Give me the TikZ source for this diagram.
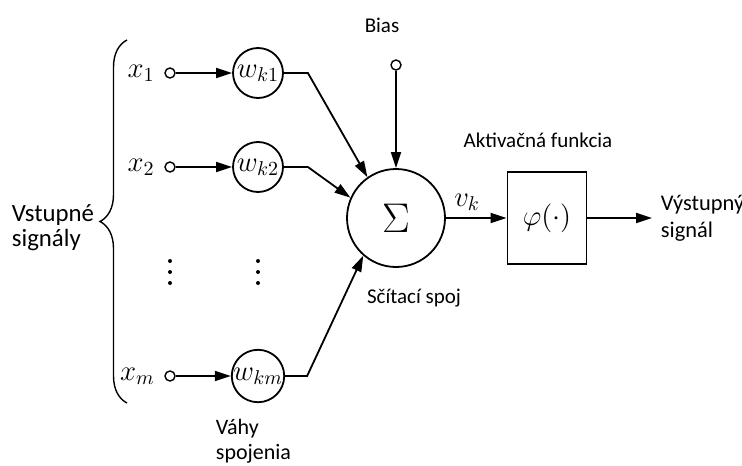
\documentclass[tikz,border=0pt]{standalone}
\usepackage{amsmath}
\usepackage{fontspec}
\setmainfont{Carlito}
\usepackage{tikz}
\usetikzlibrary{arrows.meta, decorations.pathreplacing}

\begin{document}
\begin{tikzpicture}[x=0.5pt, y=-0.5pt, line width=0.9pt,
		every node/.style={font=\fontsize{10.5}{12.8}\selectfont},
		pin/.style={draw, circle, minimum size=5pt, inner sep=0pt, line width=0.7pt},
		weight/.style={draw, circle, minimum size=25pt, inner sep=0pt, font=\Large},
		sig/.style={-{Triangle[length=8pt, width=5pt]}},
		mathlbl/.style={font=\Large},
		sidelbl/.style={anchor=west, align=left, inner sep=0pt}]
		\useasboundingbox (0, 0) rectangle (742, 465);

		% inputs x_j and their weights
		\node[pin] (x1) at (170, 73) {};
		\node[pin] (x2) at (170, 167) {};
		\node[pin] (xm) at (170, 376) {};
		\node[mathlbl, left=1pt] (x1lbl) at (x1.west) {$x_1$};
		\node[mathlbl, left=1pt] (x2lbl) at (x2.west) {$x_2$};
		\node[mathlbl, left=1pt] (xmlbl) at (xm.west) {$x_m$};

		\node[weight] (w1) at (258, 73) {$w_{k1}$};
		\node[weight] (w2) at (258, 167) {$w_{k2}$};
		\node[weight] (wm) at (258, 376) {$w_{km}$};

		\foreach \y in {261, 272, 283} {
			\fill (170, \y) circle (1pt);
			\fill (258, \y) circle (1pt);
		}

		\draw[sig] (x1) -- (w1);
		\draw[sig] (x2) -- (w2);
		\draw[sig] (xm) -- (wm);

		% summing junction
		\node[draw, circle, minimum size=49pt, inner sep=0pt, font=\huge] (sum) at (396, 218) {$\Sigma$};
		\node[pin] (bias) at (396, 65) {};

		\draw[sig] (w1.east) -- ++(24, 0) -- (sum.125);
		\draw[sig] (w2.east) -- ++(24, 0) -- (sum.156);
		\draw[sig] (wm.east) -- ++(22, 0) -- (sum.229);
		\draw[sig] (bias) -- (sum);

		% activation
		\node[draw, minimum width=39.5pt, minimum height=46pt, inner sep=0pt, font=\Large] (act) at (547, 218) {$\varphi(\cdot)$};
		\coordinate (out) at (652, 218);
		\draw[sig] (sum) -- (act) node[pos=0.35, above, mathlbl] (vk) {$v_k$};
		\draw[sig] (act) -- (out);

		% bracket over the inputs
		\coordinate (brbot) at (127, 403);
		\coordinate (brtop) at (127, 40);
		\draw[decorate, decoration={brace, amplitude=13.5pt}, line width=0.7pt] (brbot) -- (brtop);

		% captions
		\node (biaslbl) at (382, 25) {Bias};
		\node[sidelbl, font=\fontsize{12.4}{12.6}\selectfont] (inlbl) at (11, 228) {Vstupné\\signály};
		\node[sidelbl, font=\fontsize{11}{12.5}\selectfont] (wlbl) at (215, 441) {Váhy\\spojenia};
		\node (sumlbl) at (414, 298) {Sčítací spoj};
		\node (actlbl) at (538, 140) {Aktivačná funkcia};
		\node[sidelbl, font=\fontsize{11.2}{13.4}\selectfont] (outlbl) at (660, 218) {Výstupný\\signál};
	\end{tikzpicture}
\end{document}
